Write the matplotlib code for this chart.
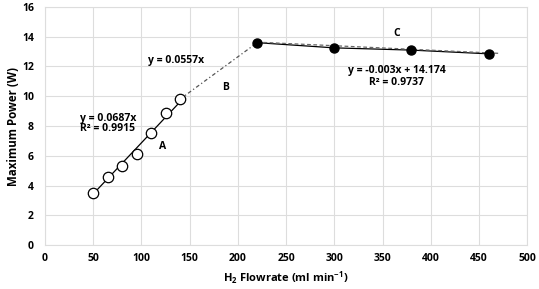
import matplotlib
matplotlib.use("Agg")
import matplotlib.pyplot as plt
import numpy as np

# Data
flow_a = [50, 65, 80, 95, 110, 125, 140]
power_a = [3.5, 4.55, 5.3, 6.15, 7.55, 8.85, 9.8]
flow_c = [220, 300, 380, 460]
power_c = [13.6, 13.25, 13.1, 12.85]
slope_a = 0.0687
slope_c, icpt_c = -0.003, 14.174

plt.rcParams['font.family'] = ['Open Sans', 'DejaVu Sans']
plt.rcParams['font.weight'] = 'bold'
plt.rcParams['mathtext.fontset'] = 'custom'
plt.rcParams['mathtext.rm'] = 'Open Sans:bold'
plt.rcParams['mathtext.bf'] = 'Open Sans:bold'
plt.rcParams['mathtext.it'] = 'Open Sans:bold'
plt.rcParams['mathtext.default'] = 'rm'

fig = plt.figure(figsize=(5.39, 2.89), dpi=100)
ax = fig.add_axes([0.0835, 0.152, 0.8945, 0.824])

# trend A (solid)
xa = np.array([flow_a[0] - 3, flow_a[-1]])
ax.plot(xa, slope_a * xa, color='black', lw=0.9, zorder=2)
# B connector (dash-dot)
ax.plot([flow_a[-1], flow_c[0]], [power_a[-1], power_c[0]], color='#555555',
        lw=0.9, ls=(0, (3, 2, 1, 2)), zorder=2)
# C solid connector
ax.plot(flow_c, power_c, color='black', lw=0.9, zorder=2)
# C trendline (dashed)
xc = np.array([flow_c[0], 470])
ax.plot(xc, slope_c * xc + icpt_c + 0.12, color='#666666', lw=0.9, ls=(0, (3, 2)), zorder=2)

ax.plot(flow_a, power_a, 'o', mfc='white', mec='black', ms=7.5, mew=0.9, zorder=3)
ax.plot(flow_c, power_c, 'o', color='black', ms=6.5, zorder=3)

ax.set_xlim(0, 500)
ax.set_ylim(0, 16)
ax.set_xticks(range(0, 501, 50))
ax.set_yticks(range(0, 17, 2))
ax.grid(True, color='#dddddd', lw=0.8)
ax.set_axisbelow(True)
for s in ax.spines.values():
    s.set_color('#dddddd')
ax.tick_params(axis='x', length=0, labelsize=7.5, pad=6)
ax.tick_params(axis='y', length=0, labelsize=7.5, pad=8)
for lab in ax.get_xticklabels() + ax.get_yticklabels():
    lab.set_fontweight('bold')

ax.set_xlabel('H$_2$ Flowrate (ml min$^{-1}$)', fontsize=8, fontweight='bold', labelpad=4)
ax.set_ylabel('Maximum Power (W)', fontsize=8.3, fontweight='bold')
ax.yaxis.set_label_coords(-0.052, 0.5)

fs = 7.5
ax.text(107, 12.4, 'y = 0.0557x', fontsize=fs, fontweight='bold', va='center')
ax.text(184, 10.6, 'B', fontsize=fs, fontweight='bold', va='center')
ax.text(36, 8.5, 'y = 0.0687x', fontsize=fs, fontweight='bold', va='center')
ax.text(36, 7.8, 'R² = 0.9915', fontsize=fs, fontweight='bold', va='center')
ax.text(118, 6.6, 'A', fontsize=fs, fontweight='bold', va='center')
ax.text(361, 14.2, 'C', fontsize=fs, fontweight='bold', va='center')
ax.text(365, 11.7, 'y = -0.003x + 14.174', fontsize=fs, fontweight='bold', va='center', ha='center')
ax.text(365, 10.95, 'R² = 0.9737', fontsize=fs, fontweight='bold', va='center', ha='center')

fig.savefig('out.png', dpi=100)
